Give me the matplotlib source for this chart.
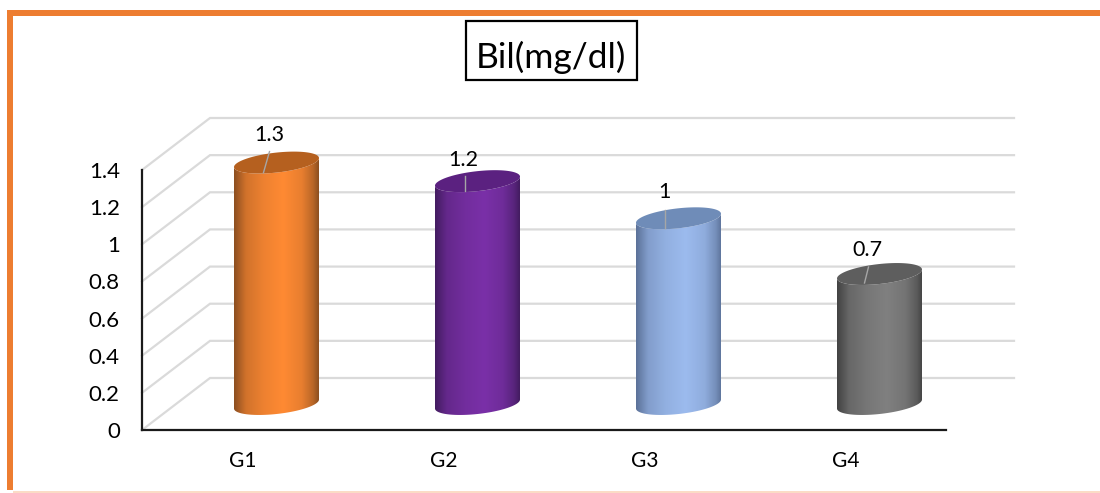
import numpy as np
import matplotlib
matplotlib.use("Agg")
import matplotlib.pyplot as plt
from matplotlib.colors import LinearSegmentedColormap, to_rgb
from matplotlib.patches import Polygon, Rectangle

groups = ["G1", "G2", "G3", "G4"]
bil = [1.3, 1.2, 1.0, 0.7]
value_labels = ["1.3", "1.2", "1", "0.7"]
yticks = [0, 0.2, 0.4, 0.6, 0.8, 1.0, 1.2, 1.4]
ytick_labels = ["0", "0.2", "0.4", "0.6", "0.8", "1", "1.2", "1.4"]

# edge colour, mid colour, cap colour
bar_colors = [
    ("#8c4f20", "#ff8a33", "#b5601f"),
    ("#431c60", "#7a30a8", "#5b2180"),
    ("#5b7198", "#9cbbee", "#6f8cb8"),
    ("#424242", "#808080", "#5e5e5e"),
]

plt.rcParams["font.family"] = ["Lato", "DejaVu Sans"]

W, H = 1100, 493
fig = plt.figure(figsize=(W / 100, H / 100), dpi=100)
ax = fig.add_axes([142 / W, (H - 430) / H, 804 / W, 260 / H])
ax.set_xlim(-0.5, 3.5)
ax.set_ylim(0, 1.4)

# pixels per data unit
sx = 804 / 4
sy = 260 / 1.4
depth_x = 68 / sx
depth_y = 52 / sy

# orange frame
fig.add_artist(Rectangle((7 / W, 3 / H), 6 / W, (H - 13) / H, transform=fig.transFigure, fc="#ed7d31", ec="none"))
fig.add_artist(Rectangle((7 / W, (H - 16) / H), (W - 7) / W, 6 / H, transform=fig.transFigure, fc="#ed7d31", ec="none"))
fig.add_artist(Rectangle((13 / W, 0), (W - 13) / W, 2 / H, transform=fig.transFigure, fc="#fbdcc6", ec="none"))

# back wall and side wall gridlines
for t in yticks:
    ax.plot([-0.5, -0.5 + depth_x, 3.5 + depth_x], [t, t + depth_y, t + depth_y],
            color="#dadada", lw=1.6, clip_on=False, zorder=1, solid_joinstyle="miter")


def ellipse(cx, cy, t):
    x = cx + 42.5 / sx * np.cos(t)
    y = cy + (4.5 * np.cos(t) + 10 * np.sin(t)) / sy
    return x, y


def blend(a, b, f):
    return tuple((1 - f) * p + f * q for p, q in zip(to_rgb(a), to_rgb(b)))


# leader line ends relative to the cap centre, then label offset, all in pixels
leaders = [
    ((-13, -10), (-7, 11), (-7.5, 28)),
    ((-13, -10), (-13, 5), (-14, 21)),
    ((-14, -10), (-14, 8), (-14.5, 26)),
    ((-15, -9), (-11, 7), (-12, 24)),
]

t_front = np.linspace(np.pi, 2 * np.pi, 80)
t_all = np.linspace(0, 2 * np.pi, 160)
grad = np.linspace(0, 1, 256).reshape(1, -1)

for i, v in enumerate(bil):
    edge, mid, cap = bar_colors[i]
    cx = i + depth_x / 2
    y0 = depth_y / 2
    y1 = v + depth_y / 2

    # cylinder body: front half of the top ellipse, back along the bottom one
    xt, yt = ellipse(cx, y1, t_front)
    xb, yb = ellipse(cx, y0, t_front[::-1])
    body = Polygon(np.column_stack([np.r_[xt, xb], np.r_[yt, yb]]), closed=True,
                   fc="none", ec="none", transform=ax.transData, clip_on=False)
    ax.add_patch(body)
    cmap = LinearSegmentedColormap.from_list(
        "shade",
        [(0, edge), (0.14, blend(edge, mid, 0.6)), (0.35, blend(edge, mid, 0.85)), (0.58, mid),
         (0.8, blend(edge, mid, 0.8)), (0.93, blend(edge, mid, 0.4)), (1, edge)])
    im = ax.imshow(grad, cmap=cmap, aspect="auto", zorder=3,
                   extent=[cx - 42.5 / sx, cx + 42.5 / sx, -0.1, y1 + 0.1])
    im.set_clip_path(body)
    im.set_clip_box(fig.bbox)

    xc, yc = ellipse(cx, y1, t_all)
    ax.fill(xc, yc, color=cap, lw=0, zorder=4, clip_on=False)

    start, end, lab = leaders[i]
    ax.plot([cx + start[0] / sx, cx + end[0] / sx], [y1 + start[1] / sy, y1 + end[1] / sy],
            color="#a6a6a6", lw=1.0, zorder=5, clip_on=False)
    ax.text(cx + lab[0] / sx, y1 + lab[1] / sy, value_labels[i], ha="center", va="center",
            fontsize=15.5, color="black", zorder=6)

ax.set_xlim(-0.5, 3.5)
ax.set_ylim(0, 1.4)
ax.patch.set_visible(False)

ax.set_xticks(range(len(groups)))
ax.set_xticklabels(groups, fontsize=15)
ax.set_yticks(yticks)
ax.set_yticklabels(ytick_labels, fontsize=16)
ax.tick_params(axis="x", length=0, pad=15)
ax.tick_params(axis="y", length=0, pad=16)
for s in ["top", "right"]:
    ax.spines[s].set_visible(False)
for s in ["left", "bottom"]:
    ax.spines[s].set_linewidth(1.6)
    ax.spines[s].set_color("#1a1a1a")

# boxed title
fig.add_artist(Rectangle((466 / W, (H - 80) / H), 171 / W, 59 / H, transform=fig.transFigure,
                         fc="white", ec="black", lw=1.6))
fig.text(550.5 / W, (H - 57) / H, "Bil(mg/dl)", ha="center", va="center", fontsize=25.5, color="black")

fig.savefig("out.png", dpi=100)
